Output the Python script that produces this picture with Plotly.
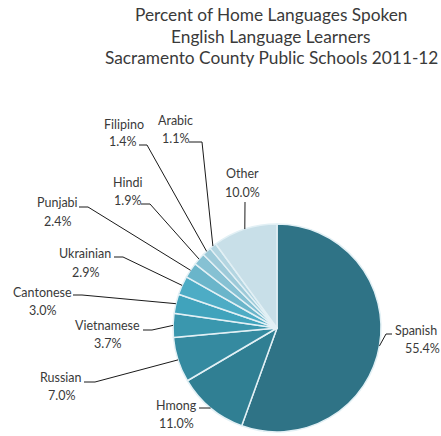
import math
import plotly.graph_objects as go

# Home languages of English Language Learners, Sacramento County 2011-12
languages = ["Spanish", "Hmong", "Russian", "Vietnamese", "Cantonese", "Ukrainian",
             "Punjabi", "Hindi", "Filipino", "Arabic", "Other"]
percents = [55.4, 11.0, 7.0, 3.7, 3.0, 2.9, 2.4, 1.9, 1.4, 1.1, 10.0]
title_lines = ["Percent of Home Languages Spoken",
               "English Language Learners",
               "Sacramento County Public Schools 2011-12"]

slice_colors = ["#2F7386", "#307F93", "#358AA0", "#3A97AE", "#40A3BC", "#4DACC5",
                "#6AB5CA", "#86C1D3", "#9DCAD9", "#B3D5E1", "#C8DFE8"]

W, H = 441, 436
CX, CY, R = 277, 328, 104          # pie centre and radius in pixels
TEXT = "#3A3A3A"
FONT = "Lato"

def px(x):
    return x / W

def py(y):
    return 1 - y / H

# label placement (pixels): name centre, percent centre, leader start, leader knee
label_layout = {
    "Spanish":    ((416, 330), (422, 348), (392, 334), (386, 334)),
    "Hmong":      ((176, 405), (176, 423), (199, 408), (208, 408)),
    "Russian":    ((61, 377),  (61, 395),  (84, 382),  (95, 382)),
    "Vietnamese": ((107, 325), (107, 343), (143, 330), (152, 330)),
    "Cantonese":  ((42, 292),  (42, 310),  (73, 295),  (82, 295)),
    "Ukrainian":  ((85, 254),  (85, 272),  (114, 257), (123, 257)),
    "Punjabi":    ((57, 203),  (57, 222),  (79, 207),  (88, 207)),
    "Hindi":      ((127, 182), (127, 200), (141, 204), (150, 204)),
    "Filipino":   ((124, 124), (123, 142), (139, 145), (147, 145)),
    "Arabic":     ((175, 120), (175, 138), (189, 142), (202, 142)),
    "Other":      ((242, 173), (242, 192), (245, 202), (245, 202)),
}

fig = go.Figure(go.Pie(
    labels=languages,
    values=percents,
    sort=False,
    direction="clockwise",
    rotation=0,
    textinfo="none",
    hoverinfo="label+percent",
    marker=dict(colors=slice_colors, line=dict(color="#E2F0F5", width=1.5)),
    domain=dict(x=[px(CX - R), px(CX + R)], y=[py(CY + R), py(CY - R)]),
))

annotations = []
shapes = []

for i, line in enumerate(title_lines):
    annotations.append(dict(
        x=px(271), y=py(15 + 21.5 * i), xref="paper", yref="paper",
        text=line, showarrow=False, xanchor="center", yanchor="middle",
        font=dict(family=FONT, size=17.3, color=TEXT)))

total = sum(percents)
cum = 0.0
for lang, val in zip(languages, percents):
    mid = (cum + val / 2) / total * 2 * math.pi
    cum += val
    ex = CX + R * math.sin(mid)
    ey = CY - R * math.cos(mid)
    name_c, pct_c, start, knee = label_layout[lang]
    annotations.append(dict(
        x=px(name_c[0]), y=py(name_c[1]), xref="paper", yref="paper",
        text=lang, showarrow=False, xanchor="center", yanchor="middle",
        font=dict(family=FONT, size=12.5, color=TEXT)))
    annotations.append(dict(
        x=px(pct_c[0]), y=py(pct_c[1]), xref="paper", yref="paper",
        text=f"{val:.1f}%", showarrow=False, xanchor="center", yanchor="middle",
        font=dict(family=FONT, size=12.5, color=TEXT)))
    path = (f"M {px(start[0])},{py(start[1])} "
            f"L {px(knee[0])},{py(knee[1])} "
            f"L {px(ex)},{py(ey)}")
    shapes.append(dict(type="path", xref="paper", yref="paper", path=path,
                       line=dict(color="#1A1A1A", width=1)))

fig.update_layout(
    width=W, height=H,
    margin=dict(l=0, r=0, t=0, b=0),
    paper_bgcolor="white",
    plot_bgcolor="white",
    showlegend=False,
    annotations=annotations,
    shapes=shapes,
)

fig.write_html("out.html")
